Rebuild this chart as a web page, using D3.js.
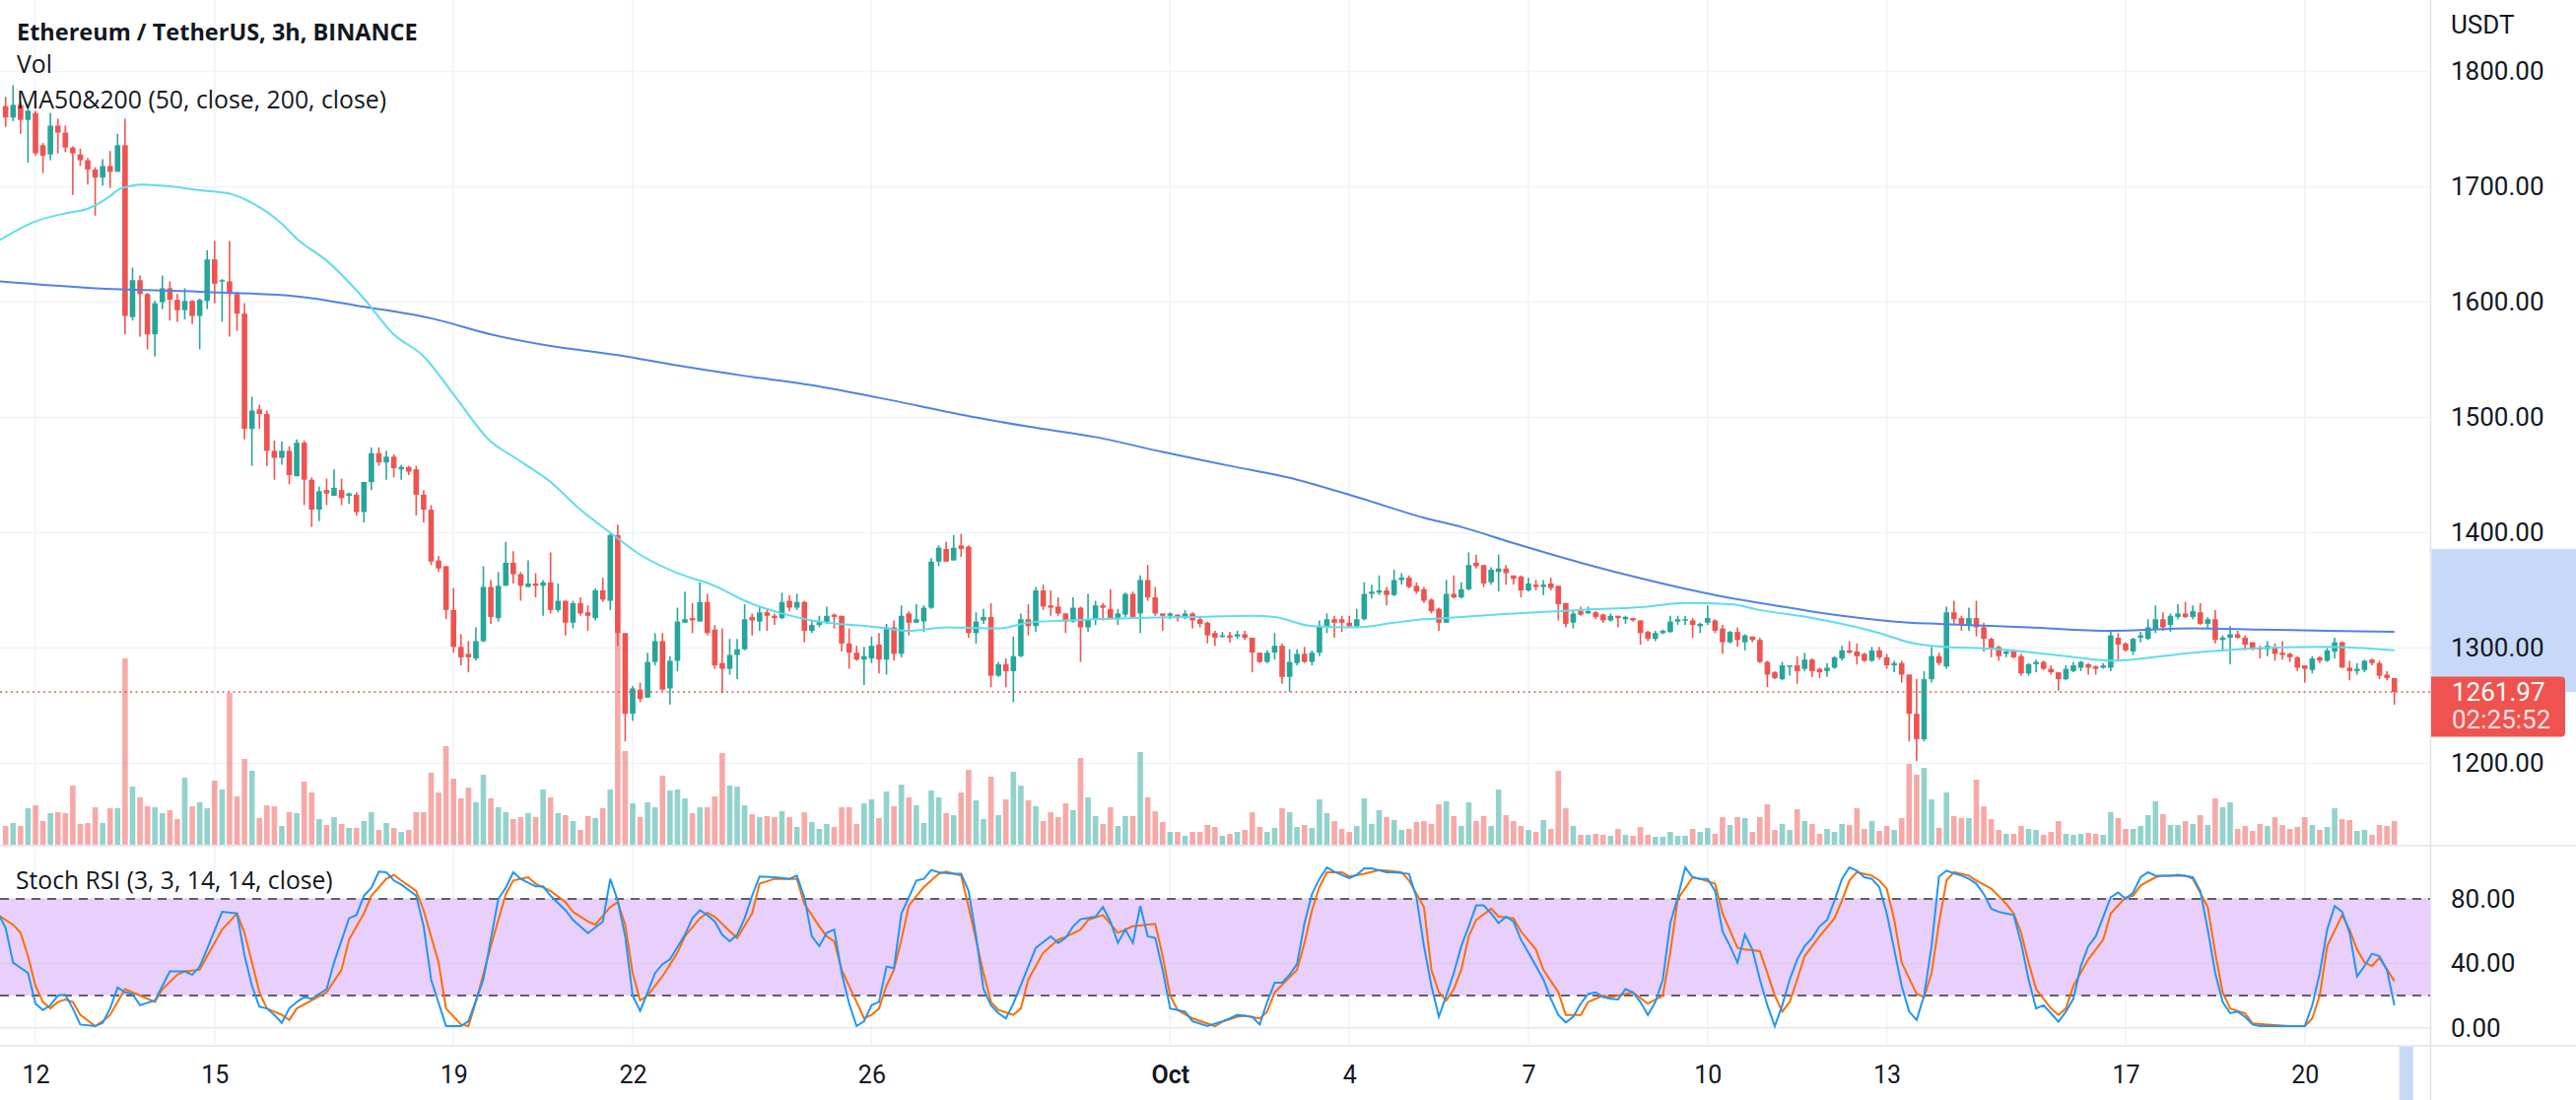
<!DOCTYPE html>
<html><head><meta charset="utf-8">
<script src="https://cdn.jsdelivr.net/npm/d3@7"></script>
<style>
html,body{margin:0;padding:0;background:#fff;overflow:hidden;}
svg{display:block;}
text{font-family:Roboto,"Noto Sans",sans-serif;fill:#131722;}
.legend{font-family:"Open Sans",Roboto,sans-serif;}
</style></head><body>
<svg id="c" width="2614" height="1116"></svg>
<script>
// ---------------- DATA ----------------
const firstBarTime = "2022-09-11T12:00:00Z"; // 3h bars, ETH/USDT Binance
const barHours = 3;
const open = [1770,1760,1771,1758,1764,1736,1728,1753,1747,1734,1728,1723,1715,1708,
1718,1713,1736,1587,1619,1607,1572,1600,1612,1602,
1593,1601,1588,1601,1637,1618,1618,1607,1590,1490,
1507,1503,1471,1465,1471,1449,1478,1446,1420,1437,
1432,1437,1432,1433,1418,1444,1469,1461,1466,1455,
1457,1455,1433,1420,1376,1371,1333,1301,1295,1291,
1306,1353,1326,1354,1374,1364,1353,1356,1354,1357,
1333,1341,1322,1339,1331,1326,1350,1341,1398,1313,
1243,1264,1257,1288,1306,1265,1289,1322,1326,1323,
1340,1316,1287,1282,1294,1299,1327,1323,1331,1328,
1326,1341,1335,1340,1315,1320,1322,1329,1328,1304,
1296,1290,1291,1303,1290,1318,1295,1330,1322,1323,
1335,1375,1386,1376,1389,1388,1313,1324,1327,1276,
1286,1280,1293,1325,1319,1350,1337,1336,1330,1323,
1335,1318,1325,1337,1334,1325,1329,1347,1330,1359,
1344,1330,1328,1329,1327,1330,1325,1322,1313,1310,
1311,1310,1312,1309,1296,1288,1296,1302,1275,1287,
1295,1288,1296,1319,1325,1325,1322,1319,1325,1347,
1348,1350,1346,1359,1361,1354,1351,1342,1334,1322,
1347,1344,1351,1374,1372,1357,1366,1369,1363,1362,
1350,1355,1353,1356,1354,1339,1322,1332,1330,1331,
1329,1324,1328,1325,1326,1324,1314,1308,1313,1314,
1323,1324,1324,1319,1322,1324,1317,1305,1314,1305,
1310,1307,1288,1279,1273,1284,1285,1282,1290,1282,
1280,1283,1291,1298,1297,1295,1289,1298,1292,1285,
1287,1277,1243,1221,1273,1293,1284,1331,1326,1320,
1326,1318,1308,1301,1295,1298,1293,1278,1286,1288,
1282,1279,1273,1280,1283,1286,1284,1283,1283,1309,
1304,1297,1309,1308,1316,1325,1320,1327,1330,1327,
1331,1321,1325,1307,1309,1312,1309,1305,1300,1299,
1301,1296,1295,1292,1285,1281,1292,1289,1297,1305,
1283,1280,1281,1290,1287,1277,1274];
const high = [1778,1788,1773,1770,1766,1738,1764,1759,1753,1735,1733,1725,1717,1724,
1731,1746,1759,1630,1623,1608,1601,1623,1618,1607,
1612,1602,1603,1645,1653,1620,1653,1609,1599,1518,
1511,1506,1480,1479,1475,1481,1480,1448,1440,1447,
1455,1447,1435,1435,1444,1474,1474,1471,1468,1459,
1458,1458,1437,1424,1380,1371,1352,1312,1306,1318,
1371,1359,1366,1392,1384,1366,1376,1365,1359,1383,
1356,1341,1341,1344,1337,1352,1361,1400,1407,1313,
1267,1270,1296,1313,1313,1293,1335,1349,1339,1357,
1347,1320,1317,1308,1308,1338,1330,1336,1333,1330,
1348,1346,1347,1341,1324,1328,1336,1330,1328,1317,
1302,1301,1310,1313,1321,1324,1337,1332,1338,1337,
1378,1389,1392,1398,1399,1389,1331,1334,1339,1288,
1291,1310,1330,1338,1353,1355,1350,1344,1330,1344,
1336,1347,1341,1339,1351,1334,1348,1349,1363,1372,
1353,1330,1331,1329,1333,1331,1328,1323,1315,1314,
1314,1315,1315,1309,1296,1298,1313,1304,1299,1299,
1301,1298,1324,1330,1328,1328,1328,1334,1357,1355,
1363,1353,1368,1365,1363,1357,1353,1343,1335,1359,
1363,1357,1383,1381,1372,1370,1381,1372,1363,1363,
1361,1359,1359,1361,1354,1339,1333,1336,1336,1332,
1330,1330,1328,1328,1326,1324,1315,1315,1316,1328,
1328,1328,1326,1322,1337,1325,1320,1315,1318,1312,
1310,1309,1289,1280,1288,1285,1293,1296,1291,1283,
1287,1293,1302,1306,1304,1296,1301,1301,1295,1289,
1289,1277,1273,1280,1301,1296,1336,1341,1328,1335,
1341,1322,1309,1302,1299,1299,1295,1287,1290,1289,
1285,1279,1285,1288,1289,1287,1285,1287,1314,1313,
1305,1309,1314,1325,1337,1331,1330,1338,1340,1337,
1339,1327,1333,1311,1319,1315,1311,1305,1302,1306,
1304,1306,1296,1293,1285,1293,1293,1300,1309,1306,
1289,1287,1290,1291,1289,1280,1274];
const low = [1752,1757,1746,1721,1727,1712,1723,1729,1730,1693,1718,1702,1675,1701,
1699,1713,1572,1584,1570,1559,1553,1594,1584,1583,
1585,1581,1559,1594,1599,1583,1570,1575,1481,1458,
1490,1458,1446,1459,1442,1449,1424,1405,1410,1424,
1432,1424,1425,1415,1409,1437,1458,1446,1448,1446,
1450,1415,1409,1372,1366,1325,1296,1285,1279,1289,
1305,1321,1323,1354,1356,1341,1353,1344,1328,1330,
1331,1311,1317,1328,1315,1324,1340,1333,1302,1219,
1237,1253,1257,1285,1263,1251,1280,1322,1313,1323,
1311,1282,1261,1277,1273,1298,1311,1315,1315,1320,
1325,1332,1333,1305,1313,1318,1321,1317,1297,1282,
1289,1268,1287,1278,1277,1289,1292,1311,1322,1314,
1334,1371,1375,1376,1379,1309,1304,1321,1266,1275,
1266,1253,1292,1311,1314,1333,1328,1328,1313,1322,
1288,1314,1320,1324,1325,1320,1327,1326,1313,1341,
1328,1315,1325,1323,1325,1317,1318,1304,1302,1309,
1305,1308,1307,1279,1287,1287,1290,1269,1262,1285,
1287,1285,1293,1313,1309,1314,1318,1318,1324,1343,
1346,1337,1345,1355,1352,1347,1339,1330,1315,1322,
1343,1343,1350,1369,1353,1355,1349,1355,1355,1344,
1349,1350,1346,1350,1324,1318,1317,1328,1330,1325,
1322,1323,1318,1321,1323,1303,1306,1306,1312,1313,
1320,1320,1309,1313,1320,1313,1295,1304,1301,1298,
1305,1287,1266,1273,1272,1276,1269,1280,1275,1274,
1275,1282,1289,1295,1286,1288,1288,1290,1282,1279,
1270,1219,1202,1219,1270,1285,1282,1320,1315,1315,
1310,1297,1292,1289,1292,1291,1276,1276,1279,1281,
1277,1263,1272,1279,1280,1277,1277,1282,1280,1289,
1297,1294,1305,1307,1313,1315,1314,1325,1326,1325,
1320,1317,1304,1297,1286,1308,1298,1298,1291,1293,
1289,1290,1288,1280,1270,1278,1287,1288,1291,1283,
1272,1277,1279,1285,1273,1272,1251];
const close = [1760,1771,1758,1766,1729,1727,1753,1747,1734,1729,1723,1715,1708,1718,
1713,1736,1588,1619,1607,1572,1599,1612,1602,1593,
1601,1588,1602,1637,1616,1619,1607,1590,1490,1506,
1503,1471,1465,1471,1450,1478,1446,1420,1436,1434,
1439,1430,1434,1418,1444,1469,1461,1466,1456,1457,
1453,1433,1420,1375,1369,1333,1301,1292,1292,1306,
1353,1327,1354,1374,1364,1354,1356,1354,1357,1333,
1341,1322,1339,1330,1328,1350,1342,1398,1313,1243,
1265,1256,1288,1306,1264,1289,1323,1325,1324,1340,
1313,1285,1282,1294,1299,1325,1324,1331,1328,1326,
1340,1335,1340,1315,1320,1323,1328,1327,1304,1296,
1290,1293,1302,1290,1318,1295,1328,1322,1325,1335,
1375,1387,1375,1387,1386,1313,1323,1327,1276,1286,
1280,1293,1325,1319,1350,1336,1335,1330,1323,1335,
1318,1325,1337,1335,1325,1330,1347,1327,1359,1344,
1330,1328,1330,1327,1330,1324,1321,1311,1309,1311,
1309,1312,1309,1296,1288,1296,1302,1275,1288,1295,
1288,1296,1319,1325,1322,1322,1319,1325,1347,1349,
1350,1346,1359,1361,1353,1349,1341,1332,1322,1347,
1344,1351,1372,1371,1356,1368,1369,1365,1360,1350,
1356,1353,1355,1352,1338,1321,1330,1329,1332,1327,
1324,1328,1326,1327,1324,1313,1308,1313,1315,1323,
1325,1325,1320,1321,1326,1315,1305,1314,1307,1311,
1307,1288,1277,1274,1285,1285,1280,1290,1280,1279,
1283,1292,1298,1296,1293,1289,1298,1292,1285,1287,
1277,1243,1221,1273,1293,1287,1331,1325,1321,1326,
1318,1308,1299,1293,1297,1292,1278,1286,1288,1282,
1279,1273,1282,1285,1288,1283,1282,1285,1311,1303,
1298,1308,1311,1318,1325,1318,1328,1330,1327,1332,
1321,1325,1307,1309,1312,1309,1303,1299,1299,1302,
1295,1294,1292,1283,1282,1291,1289,1298,1305,1283,
1280,1282,1289,1287,1276,1274,1261.97];
// volume, thousand ETH
const volume = [19,22,19,37,40,24,32,33,32,60,21,22,38,22,
37,37,189,59,48,39,38,32,35,26,
68,39,43,37,65,56,154,49,87,75,
27,40,39,19,33,32,64,53,26,20,
28,21,17,17,24,33,15,22,17,13,
15,33,33,73,53,100,67,47,58,43,
71,47,38,33,26,28,32,28,56,48,
32,30,24,15,29,27,37,56,215,95,
42,28,43,38,70,55,56,47,32,38,
38,49,93,60,59,40,31,28,29,28,
34,28,18,33,23,16,21,18,38,38,
21,42,46,27,54,39,61,48,40,22,
55,48,32,30,53,76,45,26,69,30,
46,74,60,45,39,24,33,28,42,35,
88,48,29,21,38,19,29,29,94,48,
34,23,13,13,9,13,13,20,18,9,
11,13,15,33,18,13,17,37,33,18,
20,17,46,32,24,16,13,19,47,21,
35,28,25,15,16,23,24,21,41,44,
29,19,43,24,29,19,56,30,24,19,
15,13,25,16,75,37,19,10,10,11,
10,9,16,10,9,18,10,8,8,13,
9,9,16,13,17,11,28,20,28,27,
13,28,41,15,21,15,36,24,21,11,
16,13,21,20,37,16,24,14,19,15,
27,82,71,78,46,17,53,29,27,27,
66,39,26,15,11,11,19,16,15,10,
13,24,11,10,11,12,11,10,33,27,
16,16,19,30,44,31,20,20,24,21,
30,20,47,38,43,16,19,14,21,19,
28,20,16,18,28,20,15,18,37,26,
25,14,15,10,20,19,24];
// indicator readings: [bar, value], bar = 3h bars after 2022-09-12 00:00 UTC
const ma50 = [[-5,1653],[0,1670],[4,1677],[7,1681],[10,1692],[11,1697],[13,1701],[14,1702],[17,1701],[22,1697],[26,1694],[29,1686],[33,1668],[35,1655],[39,1636],[44,1603],[48,1572],[52,1553],[56,1520],[61,1479],[64,1466],[69,1444],[73,1420],[77,1400],[81,1381],[86,1365],[91,1354],[95,1341],[100,1330],[104,1324],[113,1318],[117,1315],[122,1318],[129,1317],[133,1322],[138,1324],[147,1326],[155,1327],[163,1328],[166,1327],[171,1319],[177,1318],[182,1322],[186,1325],[189,1326],[198,1330],[207,1333],[216,1336],[221,1339],[227,1338],[231,1333],[238,1326],[247,1313],[251,1305],[254,1302],[263,1299],[272,1293],[278,1289],[289,1296],[298,1300],[307,1301],[316,1298]];
const ma200 = [[-5,1618],[8,1612],[22,1609],[35,1605],[44,1596],[53,1586],[61,1572],[69,1562],[78,1554],[86,1545],[95,1536],[104,1528],[113,1517],[126,1500],[133,1492],[142,1483],[151,1470],[160,1458],[169,1446],[177,1431],[186,1413],[191,1405],[198,1391],[207,1374],[216,1359],[225,1346],[233,1337],[242,1328],[251,1322],[255,1321],[267,1318],[278,1315],[289,1317],[298,1316],[307,1315],[316,1314]];
const stochK = [[-5,71],[-4,62],[-3,40.5],[-1,34],[0,15],[1,11],[2,14],[3,20],[4,20.5],[5,12],[6,2],[8,1],[9,3],[10,12],[11,25],[12,22],[13,21],[14,14],[16,17],[17,26],[18,35],[20,35],[21,33],[22,38],[23,49],[25,72],[27,71],[28,45],[29,26],[30,13],[31,12],[32,8],[33,3],[34,12],[35,16],[36,19],[37,18],[39,24],[40,40.5],[42,68],[43,70],[44,82],[45,87],[46,97],[47,96.6],[48,91.5],[49,89],[51,82],[52,63],[53,30],[55,1],[57,1],[58,4],[60,30],[62,80],[63,87],[64,96.6],[65,92.5],[67,87.8],[68,87.8],[69,82],[71,73],[72,67],[74,58.8],[76,66],[77,92.5],[78,79],[79,56.8],[80,20],[81,10.5],[82,22],[83,34],[84,39.5],[85,42.5],[87,57.8],[88,68],[89,73],[90,70],[91,66],[92,57.8],[93,53.7],[94,57.8],[95,68],[96,82],[97,94],[99,93.5],[100,93],[101,92.5],[102,94.5],[103,81],[104,56.8],[105,50.7],[106,59],[107,61],[108,34],[109,15],[110,1],[111,4],[112,14],[113,16],[114,38],[115,37],[116,71],[117,81],[118,91.5],[119,92.5],[120,98],[121,96.6],[123,95.6],[124,95.6],[125,85],[126,56.8],[127,24],[128,14],[129,9],[130,5.8],[131,15],[133,38],[134,49.6],[136,56.8],[137,52.7],[138,55.8],[139,63],[140,67.4],[142,69],[143,75],[144,66],[145,52.7],[146,61],[147,52.7],[148,75.6],[149,56.8],[150,55.8],[151,36],[152,12],[153,11],[154,10],[155,4],[157,1],[159,4],[160,5.8],[161,8],[162,7.4],[163,6.8],[164,2],[165,16],[166,28],[167,28],[168,33],[169,39.5],[170,65],[171,83],[172,92.5],[173,99.6],[174,97],[176,93],[177,95],[178,99],[179,99],[181,96.6],[182,96.6],[184,95.6],[185,81],[186,50.7],[187,26],[188,6.8],[189,20],[190,34],[191,50.7],[192,63],[193,76],[194,76],[195,71],[196,65],[197,69],[198,66],[199,54.7],[200,46.6],[201,38.4],[202,30],[203,18],[204,8],[205,3.3],[206,6.8],[207,15],[208,21],[209,22],[210,19],[211,18],[212,17.6],[213,24],[214,22],[215,16],[216,8],[217,16],[218,30],[219,65],[220,81],[221,99.6],[222,93.5],[223,92.5],[224,92.5],[225,85],[226,59.8],[227,50.7],[228,40.5],[229,57.8],[230,48.6],[231,30],[232,14],[233,1],[234,14],[235,30],[236,42.5],[237,50.7],[238,55.8],[239,63],[240,67],[241,79],[242,92.5],[243,99.6],[244,97.6],[245,93.5],[246,92.5],[247,87.4],[248,71],[249,48.6],[250,26],[251,10],[252,4.8],[253,20],[254,50.7],[255,94],[256,97.6],[257,96],[258,94.5],[259,92.5],[260,89.5],[261,83],[262,74],[263,72],[265,70],[266,52.7],[267,30],[268,12],[269,14],[270,9],[271,3.7],[272,10],[273,18],[274,38.4],[275,50.7],[276,56.8],[277,69],[278,81],[279,84],[280,80],[281,84],[282,93.5],[283,96.6],[284,94.5],[286,94.5],[287,95],[289,93.5],[290,85],[291,61],[292,34],[293,16],[294,9],[295,10],[296,6.8],[297,2],[298,1],[301,1],[303,1],[304,1],[305,14],[306,34],[307,61],[308,75.6],[309,72],[310,59],[311,31.9],[312,38.4],[313,46],[314,44.5],[315,36],[316,14]];
const stochD = [[-5,70],[-3,64],[-2,59],[-1,44.5],[0,26],[1,16],[2,12],[3,16],[4,17.6],[5,16],[6,8],[8,1],[9,4],[10,8],[11,16],[12,24],[14,20],[16,16],[17,24],[19,33],[20,35],[22,36],[23,44.5],[25,61],[27,71],[28,59],[29,40.5],[30,22],[31,12],[33,8],[34,4.8],[35,12],[37,17],[39,22],[41,36],[42,54.7],[44,71],[45,82],[47,92.5],[48,95],[49,91.5],[51,85],[52,73],[54,40.5],[55,12],[57,2],[58,1],[59,16],[61,50.7],[63,83],[64,91.5],[66,93.5],[67,89.5],[69,85],[71,78],[72,72],[74,66],[75,64],[77,75],[78,78],[79,64],[80,34],[81,17],[82,20],[84,32],[86,46.6],[87,56.8],[89,68],[90,71.5],[91,69],[93,60],[94,55.8],[96,71],[97,89.5],[99,92.5],[101,92.5],[102,92.5],[103,77],[105,63],[106,56.8],[107,53.7],[108,36],[110,16],[111,5.8],[112,8],[113,12],[114,26],[115,36],[116,54.7],[117,76],[119,87.4],[121,95.6],[122,97],[124,94.5],[125,75],[127,34],[128,16],[129,11],[131,8],[132,12],[133,30],[135,46.6],[137,54.7],[138,56.4],[140,61],[141,67],[143,70],[145,59],[147,63],[150,64.5],[151,44.5],[152,20],[153,11],[155,5.8],[158,1],[159,3.7],[161,6.8],[162,7.4],[164,5.8],[165,10],[166,22],[168,31.3],[169,36],[170,52.7],[171,73],[172,87.4],[173,96.6],[175,96.6],[176,94],[178,95.6],[180,98],[181,97.6],[183,96.6],[184,91.5],[186,75],[187,36],[188,22],[189,17],[190,24],[191,36],[192,56.8],[193,67],[195,74],[196,69],[198,68],[199,59.8],[201,48.6],[202,36],[204,22],[205,8],[207,8],[208,16],[210,20],[211,19],[213,21],[214,22],[216,15],[218,20],[219,46.6],[220,80],[222,93.5],[223,92.5],[225,89.5],[226,71],[228,49.6],[229,48.6],[231,47.6],[232,34],[233,20],[234,10],[235,16],[236,30],[237,44.5],[239,56.8],[241,68],[242,79],[243,91.5],[244,96.6],[246,94.5],[247,91.5],[248,86.4],[249,67],[250,40.5],[252,21],[253,19],[254,34],[255,65],[256,91.5],[257,96.6],[259,94.5],[260,91.5],[262,86.4],[264,77],[265,71],[266,59],[267,40.5],[268,24],[270,12],[271,8],[272,12],[273,26],[275,42.5],[277,54.7],[278,71],[280,81],[281,82],[282,88.4],[284,93.5],[285,94.5],[288,94.5],[289,92.5],[291,75],[292,46.6],[293,22],[294,12],[296,9],[297,2.7],[299,2],[302,1],[304,1],[305,5.8],[306,20],[307,50.7],[309,70],[310,61],[311,48.6],[312,40.5],[313,38.4],[314,43.5],[316,29]];
const priceTicks = [1200,1300,1400,1500,1600,1700,1800];
const stochTicks = [0,40,80];
const stochBands = [20,80];
const timeTicks = ["2022-09-12","2022-09-15","2022-09-19","2022-09-22","2022-09-26","2022-10-01","2022-10-04","2022-10-07","2022-10-10","2022-10-13","2022-10-17","2022-10-20"];
const timeTickLabels = ["12","15","19","22","26","Oct","4","7","10","13","17","20"];
const lastPrice = 1261.97;
const countdown = "02:25:52";
const highlightRange = [1386, 1261.97];
const titleText = "Ethereum / TetherUS, 3h, BINANCE";
const legendLines = ["Vol","MA50&200 (50, close, 200, close)"];
const stochTitle = "Stoch RSI (3, 3, 14, 14, close)";

// ---------------- LAYOUT ----------------
const W = 2614, H = 1116;
const plotR = 2466;              // right edge of plotting area
const pricePane = [0, 857];
const stochPane = [859, 1060];
const axisX = 2478;
const UP = "#26a69a", DOWN = "#ef5350";
const GRID = "#f0f3fa", SEP = "#e0e3eb";

const svg = d3.select("#c");
const t0 = new Date("2022-09-12T00:00:00Z");
const barMs = barHours*3600e3;
const x = d3.scaleUtc().domain([t0, new Date("2022-10-20T00:00:00Z")]).range([36, 2338.8]);
const xBar = b => x(new Date(t0.getTime() + b*barMs));
const y = d3.scaleLinear().domain([1200,1800]).range([774.5, 72.5]);
const yVol = d3.scaleLinear().domain([0,500]).range([857, 357]);
const yS = d3.scaleLinear().domain([0,100]).range([1042.7, 879.4]);

const firstOffset = (new Date(firstBarTime).getTime() - t0.getTime())/barMs;
const n = Math.min(open.length, high.length, low.length, close.length, volume.length);
const bars = d3.range(n).map(k => ({b: k+firstOffset, o: open[k], h: high[k], l: low[k], c: close[k], v: volume[k]}));

const defs = svg.append("defs");
defs.append("clipPath").attr("id","cp").append("rect").attr("x",0).attr("y",pricePane[0]).attr("width",plotR).attr("height",pricePane[1]-pricePane[0]);
defs.append("clipPath").attr("id","cs").append("rect").attr("x",0).attr("y",stochPane[0]).attr("width",plotR).attr("height",stochPane[1]-stochPane[0]);

svg.append("rect").attr("width",W).attr("height",H).attr("fill","#fff");

// gridlines
const grid = svg.append("g");
grid.selectAll(".hp").data(priceTicks).join("line")
  .attr("x1",0).attr("x2",plotR).attr("y1",d=>y(d)).attr("y2",d=>y(d)).attr("stroke",GRID).attr("stroke-width",1.5);
const tDates = timeTicks.map(s=>new Date(s+"T00:00:00Z"));
grid.selectAll(".vp").data(tDates).join("line")
  .attr("x1",d=>x(d)).attr("x2",d=>x(d)).attr("y1",pricePane[0]).attr("y2",pricePane[1]).attr("stroke",GRID).attr("stroke-width",1.5);
grid.selectAll(".vs").data(tDates).join("line")
  .attr("x1",d=>x(d)).attr("x2",d=>x(d)).attr("y1",stochPane[0]).attr("y2",stochPane[1]).attr("stroke",GRID).attr("stroke-width",1.5);

// price pane
const pg = svg.append("g").attr("clip-path","url(#cp)");
const bw = 5.6;
pg.selectAll(".vol").data(bars).join("rect")
  .attr("x",d=>xBar(d.b)-bw/2).attr("width",bw)
  .attr("y",d=>yVol(d.v)).attr("height",d=>yVol(0)-yVol(d.v))
  .attr("fill",d=>d.c>=d.o ? "rgba(38,166,154,0.5)" : "rgba(239,83,80,0.5)");
pg.selectAll(".wick").data(bars).join("line")
  .attr("x1",d=>xBar(d.b)).attr("x2",d=>xBar(d.b)).attr("y1",d=>y(d.h)).attr("y2",d=>y(d.l))
  .attr("stroke",d=>d.c>=d.o?UP:DOWN).attr("stroke-width",1.6);
pg.selectAll(".body").data(bars).join("rect")
  .attr("x",d=>xBar(d.b)-bw/2).attr("width",bw)
  .attr("y",d=>Math.min(y(d.o),y(d.c))).attr("height",d=>Math.max(1.5,Math.abs(y(d.o)-y(d.c))))
  .attr("fill",d=>d.c>=d.o?UP:DOWN);

const maLine = d3.line().x(d=>xBar(d[0])).y(d=>y(d[1])).curve(d3.curveMonotoneX);
pg.append("path").attr("d",maLine(ma200)).attr("fill","none").attr("stroke","#4f83e6").attr("stroke-width",2);
pg.append("path").attr("d",maLine(ma50)).attr("fill","none").attr("stroke","#5fdcec").attr("stroke-width",2);

// last price dotted line
pg.append("line").attr("x1",0).attr("x2",plotR).attr("y1",y(lastPrice)).attr("y2",y(lastPrice))
  .attr("stroke",DOWN).attr("stroke-width",1.6).attr("stroke-dasharray","2 3.5");

// stoch pane
const sg = svg.append("g").attr("clip-path","url(#cs)");
sg.append("rect").attr("x",0).attr("width",plotR).attr("y",yS(stochBands[1])).attr("height",yS(stochBands[0])-yS(stochBands[1])).attr("fill","#e9cffb");
sg.selectAll(".hs").data(stochTicks).join("line")
  .attr("x1",0).attr("x2",plotR).attr("y1",d=>yS(d)).attr("y2",d=>yS(d)).attr("stroke",d=>d===0?"#e6e8ee":"rgba(200,200,215,0.45)").attr("stroke-width",1.5);
sg.selectAll(".band").data(stochBands).join("line")
  .attr("x1",0).attr("x2",plotR).attr("y1",d=>yS(d)).attr("y2",d=>yS(d))
  .attr("stroke","#5d606b").attr("stroke-width",2).attr("stroke-dasharray","9 7");
const sLine = d3.line().x(d=>xBar(d[0])).y(d=>yS(d[1]));
sg.append("path").attr("d",sLine(stochD)).attr("fill","none").attr("stroke","#ff6d00").attr("stroke-width",2);
sg.append("path").attr("d",sLine(stochK)).attr("fill","none").attr("stroke","#2196f3").attr("stroke-width",2);

// separators
svg.append("line").attr("x1",0).attr("x2",W).attr("y1",858).attr("y2",858).attr("stroke",SEP).attr("stroke-width",1.5);
svg.append("line").attr("x1",0).attr("x2",W).attr("y1",1061).attr("y2",1061).attr("stroke",SEP).attr("stroke-width",1.5);
svg.append("line").attr("x1",plotR+0.5).attr("x2",plotR+0.5).attr("y1",0).attr("y2",H).attr("stroke",SEP).attr("stroke-width",1.5);

// highlight on price scale and time scale
svg.append("rect").attr("x",plotR+1.5).attr("width",W-plotR-1.5).attr("y",y(highlightRange[0])).attr("height",y(highlightRange[1])-y(highlightRange[0])).attr("fill","#c8d8f9");
svg.append("rect").attr("x",xBar(316)+5).attr("width",14).attr("y",1062).attr("height",H-1062).attr("fill","#c8d8f9");

// price axis
const pAx = svg.append("g").attr("transform",`translate(${axisX},0)`)
  .call(d3.axisRight(y).tickValues(priceTicks).tickFormat(d3.format(".2f")).tickSize(0).tickPadding(9));
pAx.select(".domain").remove();
pAx.selectAll("text").attr("font-size",26).attr("fill","#131722").attr("font-family","Roboto, sans-serif");
svg.append("text").attr("x",axisX+9).attr("y",34).attr("font-size",26).text("USDT");

// stoch axis
const sAx = svg.append("g").attr("transform",`translate(${axisX},0)`)
  .call(d3.axisRight(yS).tickValues(stochTicks).tickFormat(d3.format(".2f")).tickSize(0).tickPadding(9));
sAx.select(".domain").remove();
sAx.selectAll("text").attr("font-size",26).attr("fill","#131722").attr("font-family","Roboto, sans-serif");

// last price label
const yp = y(lastPrice);
svg.append("path").attr("d",`M${plotR+1},${yp-15.5} H2599 a4,4 0 0 1 4,4 V${yp+41.5} a4,4 0 0 1 -4,4 H${plotR+1} Z`).attr("fill",DOWN);
svg.append("text").attr("x",axisX+10).attr("y",yp+9).attr("font-size",26).style("fill","#fff").text(d3.format(".2f")(lastPrice));
svg.append("text").attr("x",axisX+10).attr("y",yp+37.5).attr("font-size",26).style("fill","rgba(255,255,255,0.85)").text(countdown);

// time axis
const tAx = svg.append("g").attr("transform","translate(0,1061)")
  .call(d3.axisBottom(x).tickValues(tDates).tickFormat((d,i)=>timeTickLabels[i]).tickSize(0).tickPadding(20));
tAx.select(".domain").remove();
tAx.selectAll("text").attr("font-size",25).attr("fill","#131722").attr("font-family","Roboto, sans-serif")
  .attr("font-weight",(d,i)=>timeTickLabels[i]==="Oct"?"600":"400");

// legends
svg.append("text").attr("class","legend").attr("x",17).attr("y",41).attr("font-size",23.5).attr("font-weight",700).text(titleText);
svg.append("text").attr("class","legend").attr("x",17).attr("y",74).attr("font-size",24.8).text(legendLines[0]);
svg.append("text").attr("class","legend").attr("x",17).attr("y",110).attr("font-size",24.8).text(legendLines[1]);
svg.append("text").attr("class","legend").attr("x",16).attr("y",902).attr("font-size",24.7).text(stochTitle);
</script>
</body></html>
